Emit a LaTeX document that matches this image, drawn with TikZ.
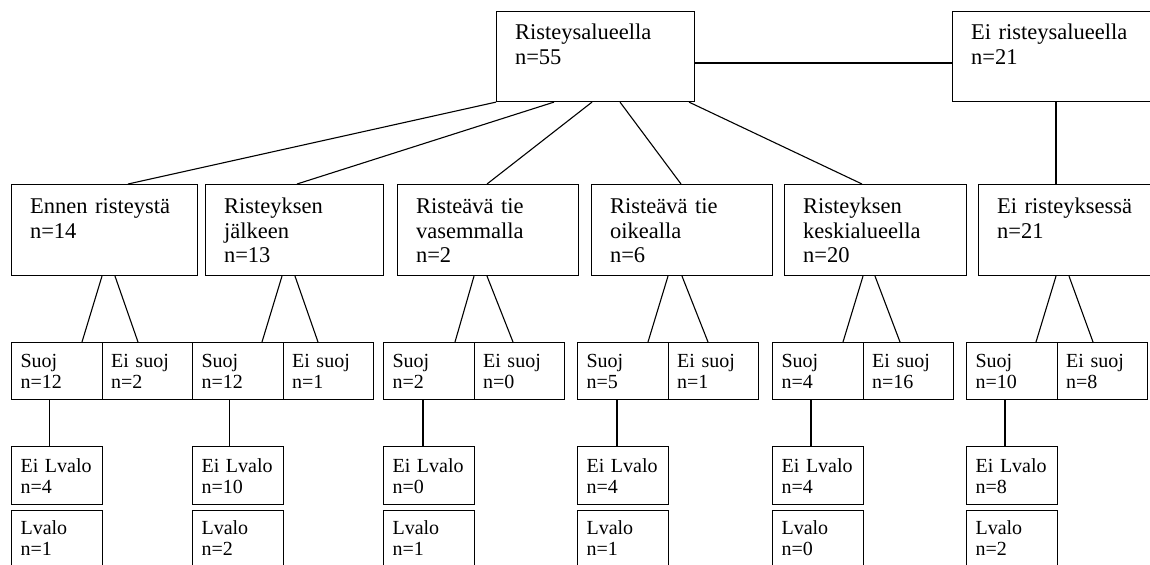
\documentclass[tikz,border=0pt]{standalone}
\usepackage{fontspec}
\setmainfont{Liberation Serif}
\usepackage{tikz}
\usetikzlibrary{calc}

\newcommand\bigfs{\fontsize{11.25}{12.25}\selectfont}
\newcommand\smallfs{\fontsize{10}{10.5}\selectfont}

\tikzset{
  box/.style={draw, anchor=north west, align=left, inner ysep=0pt},
  topbox/.style={box, font=\bigfs, inner xsep=9.25pt, text height=14pt, text depth=31pt},
  midbox/.style={box, font=\bigfs, inner xsep=9.25pt, text height=14.5pt, text depth=31pt},
  suojbox/.style={box, font=\smallfs, inner xsep=4.5pt, text width=36.25pt, text height=12.5pt, text depth=16pt},
  valobox/.style={suojbox, text height=13pt, text depth=16pt},
  lvalobox/.style={suojbox, text height=12pt, text depth=20pt}
}

\begin{document}
\begin{tikzpicture}[x=0.5pt, y=-0.5pt, line width=0.55pt]
  \useasboundingbox (0,0) rectangle (1150,564);
  \clip (0,0) rectangle (1150,564);

  % top level
  \node[topbox, text width=80.5pt] (rist) at (496,11) {Risteysalueella\\n=55};
  \node[topbox, text width=100pt] (eirist) at (952,11) {Ei risteysalueella\\n=21};

  % second level
  \node[midbox, text width=74.5pt] (ennen) at (11,184) {Ennen risteystä\\n=14};
  \node[midbox, text width=70.5pt] (jalk) at (205,184) {Risteyksen\\jälkeen\\n=13};
  \node[midbox, text width=72pt] (vas) at (397,184) {Risteävä tie\\vasemmalla\\n=2};
  \node[midbox, text width=72pt] (oik) at (591,184) {Risteävä tie\\oikealla\\n=6};
  \node[midbox, text width=72.5pt] (kesk) at (784,184) {Risteyksen\\keskialueella\\n=20};
  \node[midbox, text width=100pt] (eiris) at (978,184) {Ei risteyksessä\\n=21};

  % suoj / ei suoj
  \node[suojbox] (s1) at (11,342) {Suoj\\n=12};
  \node[suojbox] (e1) at (101.5,342) {Ei suoj\\n=2};
  \node[suojbox] (s2) at (192,342) {Suoj\\n=12};
  \node[suojbox] (e2) at (282.5,342) {Ei suoj\\n=1};
  \node[suojbox] (s3) at (383,342) {Suoj\\n=2};
  \node[suojbox] (e3) at (473.5,342) {Ei suoj\\n=0};
  \node[suojbox] (s4) at (577,342) {Suoj\\n=5};
  \node[suojbox] (e4) at (667.5,342) {Ei suoj\\n=1};
  \node[suojbox] (s5) at (772,342) {Suoj\\n=4};
  \node[suojbox] (e5) at (862.5,342) {Ei suoj\\n=16};
  \node[suojbox] (s6) at (966,342) {Suoj\\n=10};
  \node[suojbox] (e6) at (1056.5,342) {Ei suoj\\n=8};

  % lvalo
  \node[valobox] (v1) at (11,446) {Ei Lvalo\\n=4};
  \node[lvalobox] (l1) at (11,510) {Lvalo\\n=1};
  \node[valobox] (v2) at (192,446) {Ei Lvalo\\n=10};
  \node[lvalobox] (l2) at (192,510) {Lvalo\\n=2};
  \node[valobox] (v3) at (383,446) {Ei Lvalo\\n=0};
  \node[lvalobox] (l3) at (383,510) {Lvalo\\n=1};
  \node[valobox] (v4) at (577,446) {Ei Lvalo\\n=4};
  \node[lvalobox] (l4) at (577,510) {Lvalo\\n=1};
  \node[valobox] (v5) at (772,446) {Ei Lvalo\\n=4};
  \node[lvalobox] (l5) at (772,510) {Lvalo\\n=0};
  \node[valobox] (v6) at (966,446) {Ei Lvalo\\n=8};
  \node[lvalobox] (l6) at (966,510) {Lvalo\\n=2};

  % lines from the top
  \draw ($(rist.north east)+(0,52)$) -- ($(eirist.north west)+(0,52)$);
  \draw (rist.south west) -- ($(ennen.north west)+(117,0)$);
  \draw ($(rist.south west)+(58,0)$) -- ($(jalk.north west)+(92,0)$);
  \draw ($(rist.south west)+(96,0)$) -- ($(vas.north west)+(90,0)$);
  \draw ($(rist.south west)+(124,0)$) -- ($(oik.north west)+(90,0)$);
  \draw ($(rist.south west)+(193,0)$) -- ($(kesk.north west)+(78,0)$);
  \draw ($(eirist.south west)+(104,0)$) -- ($(eiris.north west)+(78,0)$);

  % lines to suoj / ei suoj
  \draw ($(ennen.south west)+(91,0)$) -- ($(s1.north west)+(71,0)$);
  \draw ($(ennen.south west)+(104,0)$) -- ($(e1.north west)+(36.5,0)$);
  \draw ($(jalk.south west)+(77,0)$) -- ($(s2.north west)+(70,0)$);
  \draw ($(jalk.south west)+(90,0)$) -- ($(e2.north west)+(35.5,0)$);
  \draw ($(vas.south west)+(77,0)$) -- ($(s3.north west)+(72,0)$);
  \draw ($(vas.south west)+(90,0)$) -- ($(e3.north west)+(39.5,0)$);
  \draw ($(oik.south west)+(77,0)$) -- ($(s4.north west)+(71,0)$);
  \draw ($(oik.south west)+(91,0)$) -- ($(e4.north west)+(40.5,0)$);
  \draw ($(kesk.south west)+(79,0)$) -- ($(s5.north west)+(71,0)$);
  \draw ($(kesk.south west)+(91,0)$) -- ($(e5.north west)+(37.5,0)$);
  \draw ($(eiris.south west)+(78,0)$) -- ($(s6.north west)+(70,0)$);
  \draw ($(eiris.south west)+(91,0)$) -- ($(e6.north west)+(36.5,0)$);

  % suoj to ei lvalo
  \draw ($(s1.south west)+(38.5,0)$) -- ($(v1.north west)+(38.5,0)$);
  \draw ($(s2.south west)+(37.5,0)$) -- ($(v2.north west)+(37.5,0)$);
  \draw ($(s3.south west)+(40,0)$) -- ($(v3.north west)+(40,0)$);
  \draw ($(s4.south west)+(40,0)$) -- ($(v4.north west)+(40,0)$);
  \draw ($(s5.south west)+(39,0)$) -- ($(v5.north west)+(39,0)$);
  \draw ($(s6.south west)+(39,0)$) -- ($(v6.north west)+(39,0)$);
\end{tikzpicture}
\end{document}
